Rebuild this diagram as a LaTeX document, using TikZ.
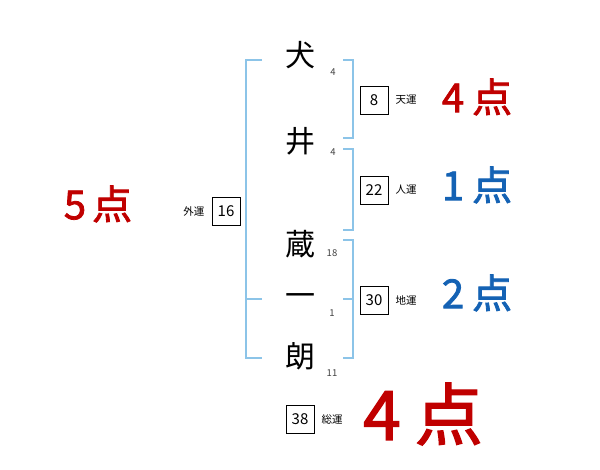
\documentclass[tikz,border=0pt]{standalone}
\usepackage{fontspec}
\usepackage{xcolor}
\usetikzlibrary{positioning}
\newfontfamily\jpfont{Noto Sans CJK JP}
\newfontfamily\tenfont[FakeBold=2]{Noto Sans CJK JP}
\definecolor{tenred}{HTML}{C00000}
\definecolor{tenblue}{HTML}{1462B4}
\definecolor{kakko}{HTML}{8CC4E8}

\begin{document}
\begin{tikzpicture}[x=1pt, y=-1pt,
  moji/.style={font=\jpfont\fontsize{30}{30}\selectfont},
  kaku/.style={font=\jpfont\fontsize{9.5}{9.5}\selectfont, text=black!75},
  unbox/.style={draw, minimum width=28, minimum height=28, inner sep=0pt, font=\jpfont\fontsize{15}{15}\selectfont},
  unlabel/.style={font=\jpfont\fontsize{10.5}{10.5}\selectfont},
  ten/.style={font=\tenfont\fontsize{40}{40}\selectfont},
  bracket/.style={draw=kakko, line width=1.4pt}]
\useasboundingbox (0,0) rectangle (600,470);

% Name characters with stroke counts
\node[moji] (c1) at (300,55) {犬};
\node[moji] (c2) at (300,141) {井};
\node[moji] (c3) at (300,244) {蔵};
\node[moji] (c4) at (300,300) {一};
\node[moji] (c5) at (300,356) {朗};
\node[kaku] (k1) at (333,72) {4};
\node[kaku] (k2) at (333,152) {4};
\node[kaku] (k3) at (332,253) {18};
\node[kaku] (k4) at (332,313) {1};
\node[kaku] (k5) at (332,373) {11};

% Brackets
\draw[bracket] (262,60) -- (246,60) -- (246,358) -- (262,358);
\draw[bracket] (246,299) -- (262,299);
\draw[bracket] (343,60) -- (353,60) -- (353,138) -- (343,138);
\draw[bracket] (343,149) -- (353,149) -- (353,230) -- (343,230);
\draw[bracket] (343,240) -- (353,240) -- (353,358) -- (343,358);
\draw[bracket] (343,299) -- (353,299);

% Fortune boxes
\node[unbox] (ten) at (374,100) {8};
\node[unlabel, right=4pt of ten] (tenl) {天運};
\node[unbox] (jin) at (374,190) {22};
\node[unlabel, right=4pt of jin] (jinl) {人運};
\node[unbox] (chi) at (374,300) {30};
\node[unlabel, right=4pt of chi] (chil) {地運};
\node[unbox] (gai) at (226,211) {16};
\node[unlabel, left=4pt of gai] (gail) {外運};
\node[unbox] (sou) at (300,419) {38};
\node[unlabel, right=4pt of sou] (soul) {総運};

% Scores
\node[ten, text=tenred] (s1) at (477,97) {4\hspace{8pt}点};
\node[ten, text=tenblue] (s2) at (477,185) {1\hspace{8pt}点};
\node[ten, text=tenblue] (s3) at (477,293) {2\hspace{8pt}点};
\node[ten, text=tenred] (s4) at (98,204) {5\hspace{6pt}点};
\node[font=\tenfont\fontsize{68}{68}\selectfont, text=tenred] (s5) at (423,414) {4\hspace{14pt}点};
\end{tikzpicture}
\end{document}
